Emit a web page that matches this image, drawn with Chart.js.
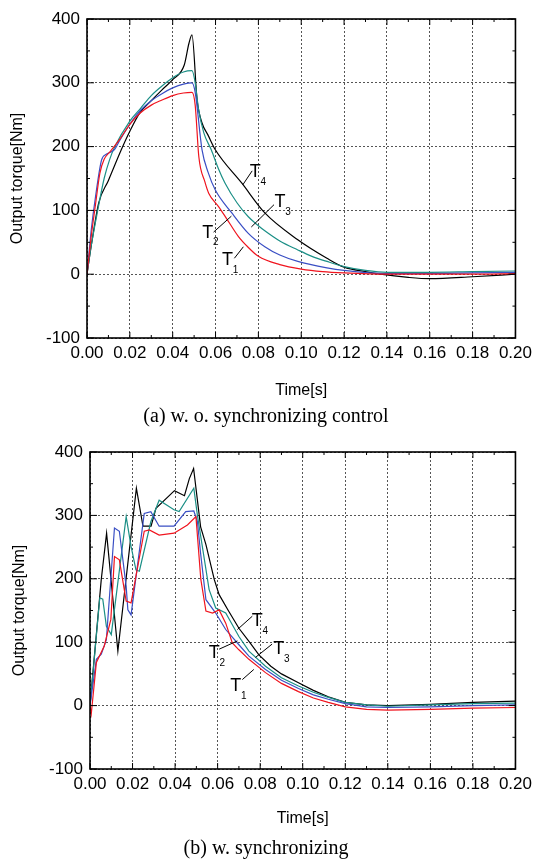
<!DOCTYPE html>
<html>
<head>
<meta charset="utf-8">
<script src="https://cdn.jsdelivr.net/npm/chart.js@4/dist/chart.umd.min.js"></script>
<style>
body{margin:0;background:#fff;width:537px;height:859px;position:relative;overflow:hidden}
canvas{position:absolute;left:0}
.cap{position:absolute;left:0;width:532px;text-align:center;font-family:"Liberation Serif","Times New Roman",serif;font-size:20px;line-height:24px;color:#000}
</style>
</head>
<body>
<canvas id="chartA" width="537" height="405" style="top:0"></canvas>
<div class="cap" style="top:403px">(a) w. o. synchronizing control</div>
<canvas id="chartB" width="537" height="405" style="top:430px"></canvas>
<div class="cap" style="top:835px">(b) w. synchronizing</div>
<script>
// (a) without synchronizing control
const tA1 = [0, 0.002, 0.004, 0.006, 0.008, 0.011, 0.015, 0.02, 0.025, 0.03, 0.035, 0.04, 0.045, 0.049, 0.0505, 0.0522, 0.055, 0.0568, 0.0614, 0.065, 0.0707, 0.075, 0.08, 0.09, 0.1, 0.11, 0.12, 0.14, 0.16, 0.18, 0.2]
const vA1 = [0, 60, 110, 158, 180, 193, 210, 235, 253, 265, 273, 280, 284, 285, 265, 184, 145, 127, 106, 88, 59, 43, 28, 15, 8, 4, 2, 0, 0, 0, 1]
const tA2 = [0, 0.002, 0.004, 0.0068, 0.009, 0.0114, 0.013, 0.015, 0.02, 0.025, 0.03, 0.035, 0.04, 0.045, 0.049, 0.0505, 0.0537, 0.0565, 0.0599, 0.0676, 0.0753, 0.083, 0.09, 0.0984, 0.112, 0.12, 0.14, 0.16, 0.18, 0.2]
const vA2 = [0, 70, 122, 179, 188, 192, 196, 208, 235, 257, 272, 283, 292, 298, 300, 285, 195, 160, 132, 96, 64, 43, 30, 20, 10, 6, 1, 1, 2, 3]
const tA3 = [0, 0.002, 0.005, 0.008, 0.0106, 0.013, 0.02, 0.025, 0.03, 0.035, 0.04, 0.045, 0.049, 0.0505, 0.052, 0.0545, 0.058, 0.0614, 0.0644, 0.07, 0.0753, 0.08, 0.083, 0.09, 0.0984, 0.105, 0.112, 0.12, 0.13, 0.14, 0.16, 0.18, 0.2]
const vA3 = [0, 45, 100, 150, 180, 200, 240, 260, 280, 295, 308, 317, 319, 300, 260, 222, 195, 165, 143, 112, 90, 76, 68, 52, 38, 28, 20, 12, 6, 3, 3, 4, 5]
const tA4 = [0, 0.002, 0.0055, 0.01, 0.016, 0.02, 0.0245, 0.03, 0.035, 0.04, 0.0454, 0.0476, 0.049, 0.0514, 0.0537, 0.0565, 0.0599, 0.0722, 0.083, 0.0984, 0.112, 0.12, 0.13, 0.137, 0.15, 0.16, 0.18, 0.2]
const vA4 = [0, 45, 112, 147, 195, 224, 252, 272, 289, 305, 328, 362, 375, 273, 237, 218, 195, 143, 96, 54, 25, 11, 4, 0, -5, -7, -4, 0]

// (b) with synchronizing
const tB1 = [0, 0.0006, 0.003, 0.0067, 0.0098, 0.0115, 0.0138, 0.017, 0.0193, 0.0255, 0.0279, 0.0325, 0.0395, 0.0458, 0.0498, 0.0521, 0.0545, 0.0576, 0.0607, 0.0638, 0.0669, 0.07, 0.0747, 0.0825, 0.09, 0.098, 0.105, 0.112, 0.12, 0.13, 0.14, 0.16, 0.18, 0.2]
const vB1 = [0, -13, 68, 94, 136, 235, 230, 165, 162, 275, 277, 269, 272, 285, 298, 199, 149, 146, 151, 130, 99, 88, 73, 52, 35, 22, 12, 5, -2, -6, -7, -6, -4, -3]
const tB2 = [0, 0.003, 0.0053, 0.0077, 0.0115, 0.0138, 0.017, 0.0178, 0.0193, 0.0255, 0.0286, 0.0325, 0.0395, 0.045, 0.0488, 0.0505, 0.052, 0.0545, 0.0591, 0.0638, 0.07, 0.0747, 0.0825, 0.09, 0.098, 0.105, 0.112, 0.12, 0.13, 0.14, 0.16, 0.18, 0.2]
const vB2 = [0, 73, 81, 104, 280, 275, 188, 151, 143, 303, 306, 283, 283, 306, 307, 290, 240, 167, 146, 120, 96, 78, 57, 40, 27, 17, 10, 3, -2, -3, -2, 0, 1]
const tB3 = [0, 0.0046, 0.006, 0.0077, 0.01, 0.017, 0.0193, 0.0216, 0.0232, 0.0286, 0.0325, 0.0395, 0.0419, 0.0488, 0.0505, 0.056, 0.0591, 0.0638, 0.07, 0.0747, 0.0825, 0.09, 0.098, 0.105, 0.112, 0.12, 0.13, 0.14, 0.16, 0.18, 0.2]
const vB3 = [0, 170, 168, 125, 112, 298, 251, 214, 212, 290, 324, 309, 306, 343, 300, 183, 154, 146, 109, 86, 62, 44, 31, 21, 13, 5, 1, -1, 1, 3, 4]
const tB4 = [0, 0.0053, 0.0078, 0.0131, 0.0218, 0.0249, 0.0287, 0.031, 0.0397, 0.0444, 0.0467, 0.0487, 0.052, 0.0545, 0.0584, 0.0607, 0.065, 0.07, 0.075, 0.0794, 0.085, 0.09, 0.098, 0.105, 0.112, 0.12, 0.13, 0.14, 0.16, 0.18, 0.2]
const vB4 = [0, 199, 272, 86, 343, 283, 283, 311, 339, 331, 358, 374, 282, 254, 199, 175, 150, 122, 100, 80, 62, 50, 36, 24, 14, 5, 1, 0, 2, 5, 7]

const seriesNames = ['1', '2', '3', '4']
const colors = ['#f0141e', '#3a4fc4', '#1b8f86', '#000000']

// label "T" spot, leader start, leader end (time, torque)
const tagA = [[0.0656, 22], [0.0564, 65], [0.0901, 113], [0.0785, 160]]
const leadA = [[[0.0688, 25], [0.0730, 43]], [[0.0591, 66], [0.0674, 91]], [[0.0767, 74], [0.0873, 109]], [[0.0727, 140], [0.0771, 162]]]
const tagB = [[0.0685, 31], [0.0584, 83], [0.0887, 89], [0.0786, 133]]
const leadB = [[[0.0716, 41], [0.0770, 57]], [[0.0607, 89], [0.0693, 102]], [[0.0778, 76], [0.0856, 97]], [[0.0693, 120], [0.0763, 141]]]

const sans = '"Liberation Sans", Arial, sans-serif'

function pts(t, v) {
  return t.map((x, i) => ({x: x, y: v[i]}))
}

const framePlugin = {
  id: 'frame',
  afterDraw(chart, args, opts) {
    const {ctx, chartArea: a, scales: {x, y}} = chart
    ctx.save()
    ctx.strokeStyle = '#000'
    ctx.lineWidth = 1
    for (let i = 0; i <= 20; i++) {
      const px = x.getPixelForValue(i * 0.01)
      const len = i % 2 == 0 ? 6 : 3
      ctx.beginPath()
      ctx.moveTo(px, a.bottom); ctx.lineTo(px, a.bottom - len)
      ctx.moveTo(px, a.top); ctx.lineTo(px, a.top + len)
      ctx.stroke()
    }
    for (let i = 0; i <= 10; i++) {
      const py = y.getPixelForValue(-100 + i * 50)
      const len = i % 2 == 0 ? 7 : 3
      ctx.beginPath()
      ctx.moveTo(a.left, py); ctx.lineTo(a.left + len, py)
      ctx.moveTo(a.right, py); ctx.lineTo(a.right - len, py)
      ctx.stroke()
    }
    ctx.lineWidth = 1.6
    ctx.strokeRect(a.left, a.top, a.right - a.left, a.bottom - a.top)

    // T labels with leader lines
    ctx.lineWidth = 1
    ctx.fillStyle = '#000'
    for (let i = 0; i < opts.tags.length; i++) {
      const [l0, l1] = opts.leads[i]
      ctx.beginPath()
      ctx.moveTo(x.getPixelForValue(l0[0]), y.getPixelForValue(l0[1]))
      ctx.lineTo(x.getPixelForValue(l1[0]), y.getPixelForValue(l1[1]))
      ctx.stroke()
      const tx = x.getPixelForValue(opts.tags[i][0])
      const ty = y.getPixelForValue(opts.tags[i][1])
      ctx.font = '18px ' + sans
      ctx.textAlign = 'center'
      ctx.textBaseline = 'middle'
      ctx.fillText('T', tx, ty)
      ctx.font = '10px ' + sans
      ctx.fillText(seriesNames[i], tx + 8, ty + 10)
    }
    ctx.restore()
  }
}

function makeChart(id, times, values, tags, leads, g) {
  new Chart(document.getElementById(id), {
    type: 'line',
    data: {
      datasets: times.map((t, i) => ({
        label: 'T' + seriesNames[i],
        data: pts(t, values[i]),
        borderColor: colors[i],
        borderWidth: 1.2,
        pointRadius: 0,
        tension: 0,
        cubicInterpolationMode: g.smooth ? 'monotone' : 'default',
        fill: false
      }))
    },
    options: {
      responsive: false,
      animation: false,
      layout: {padding: {left: 0, right: g.padRight, top: g.padTop, bottom: 0}},
      plugins: {
        legend: {display: false},
        tooltip: {enabled: false},
        frame: {tags: tags, leads: leads}
      },
      scales: {
        x: {
          type: 'linear',
          min: 0, max: 0.2,
          afterFit: s => { s.height = g.xHeight },
          ticks: {
            stepSize: 0.02,
            padding: 5,
            color: '#000',
            font: {family: sans, size: 17},
            callback: v => v.toFixed(2)
          },
          grid: {color: '#555', lineWidth: 1, drawTicks: false},
          border: {display: false, dash: [2, 2]},
          title: {display: true, text: 'Time[s]', color: '#000', font: {family: sans, size: 16}, padding: {top: 0, bottom: g.xTitlePad}}
        },
        y: {
          min: -100, max: 400,
          afterFit: s => { s.width = g.yWidth },
          ticks: {
            stepSize: 100,
            padding: 7,
            color: '#000',
            font: {family: sans, size: 17}
          },
          grid: {color: '#555', lineWidth: 1, drawTicks: false},
          border: {display: false, dash: [2, 2]},
          title: {display: true, text: 'Output torque[Nm]', color: '#000', font: {family: sans, size: 16}, padding: {top: g.yTitlePad, bottom: 0}}
        }
      }
    },
    plugins: [framePlugin]
  })
}

makeChart('chartA', [tA1, tA2, tA3, tA4], [vA1, vA2, vA3, vA4], tagA, leadA,
  {yWidth: 87, xHeight: 67, padTop: 19, padRight: 17, xTitlePad: 4.7, yTitlePad: 8.4, smooth: true})
makeChart('chartB', [tB1, tB2, tB3, tB4], [vB1, vB2, vB3, vB4], tagB, leadB,
  {yWidth: 90, xHeight: 66, padTop: 22, padRight: 18.7, xTitlePad: 6.4, yTitlePad: 10, smooth: false})
</script>
</body>
</html>
